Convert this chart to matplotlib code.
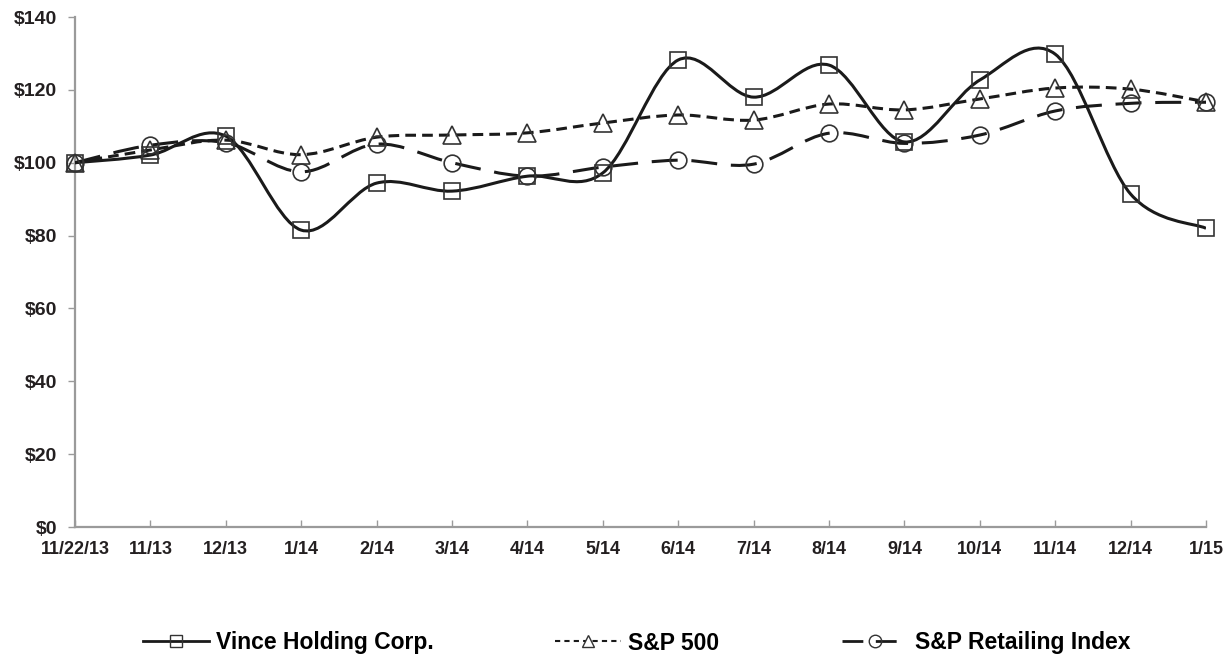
import matplotlib
matplotlib.use("Agg")
import matplotlib.pyplot as plt
from matplotlib.path import Path
from matplotlib.patches import PathPatch
from matplotlib.lines import Line2D
import numpy as np

plt.rcParams['font.family'] = ['Liberation Sans', 'DejaVu Sans']
plt.rcParams['font.weight'] = 'bold'

categories = ["11/22/13", "11/13", "12/13", "1/14", "2/14", "3/14", "4/14", "5/14",
              "6/14", "7/14", "8/14", "9/14", "10/14", "11/14", "12/14", "1/15"]
vince = [100, 102.1, 107.3, 81.5, 94.4, 92.2, 96.3, 97.2,
         128.2, 118.0, 126.8, 105.7, 122.7, 129.8, 91.4, 82.0]
sp500 = [100, 103.5, 106.2, 102.2, 107.0, 107.6, 108.2, 110.9,
         113.1, 111.7, 116.1, 114.5, 117.5, 120.5, 120.2, 116.7]
retail = [100, 104.8, 105.5, 97.5, 105.1, 100.0, 96.3, 98.8,
          100.7, 99.6, 108.1, 105.3, 107.6, 114.2, 116.3, 116.6]
yticks = [0, 20, 40, 60, 80, 100, 120, 140]
series_names = ["Vince Holding Corp.", "S&P 500", "S&P Retailing Index"]

TXT = '#231f20'
AX = '#9a9a9a'
LINE = '#1a1a1a'
MEC = '#333333'


def smooth_path(xs, ys):
    xs = np.asarray(xs, float)
    ys = np.asarray(ys, float)
    n = len(xs)
    verts = [(xs[0], ys[0])]
    codes = [Path.MOVETO]
    for i in range(n - 1):
        p0 = i - 1 if i > 0 else 0
        p3 = i + 2 if i + 2 < n else n - 1
        c1 = (xs[i] + (xs[i + 1] - xs[p0]) / 6, ys[i] + (ys[i + 1] - ys[p0]) / 6)
        c2 = (xs[i + 1] - (xs[p3] - xs[i]) / 6, ys[i + 1] - (ys[p3] - ys[i]) / 6)
        verts += [c1, c2, (xs[i + 1], ys[i + 1])]
        codes += [Path.CURVE4] * 3
    return Path(verts, codes)


fig = plt.figure(figsize=(12.32, 6.56), dpi=100)
ax = fig.add_axes([75 / 1232, 1 - 527 / 656, (1206 - 75) / 1232, (527 - 17) / 656])

x = np.arange(len(categories))
styles = [
    dict(marker='s', dashes=None, ms=11.5),
    dict(marker='^', dashes=(3.5, 2), ms=12.5),
    dict(marker='o', dashes=(8.5, 4.5), ms=12),
]
data = [vince, sp500, retail]
for ys, st in zip(data, styles):
    patch = PathPatch(smooth_path(x, ys), facecolor='none', edgecolor=LINE,
                      lw=2.2, zorder=3, capstyle='butt')
    if st['dashes'] is not None:
        patch.set_linestyle((0, st['dashes']))
    ax.add_patch(patch)
    ax.plot(x, ys, ls='none', marker=st['marker'], ms=st['ms'],
            mfc='none', mec=MEC, mew=1.2, zorder=4, clip_on=False)

ax.set_xlim(0, len(categories) - 1)
ax.set_ylim(0, 140)
ax.set_xticks(x)
ax.set_xticklabels(categories, fontsize=13, fontweight='bold', color=TXT)
ax.set_yticks(yticks)
ax.set_yticklabels([f"${v}" for v in yticks], fontsize=14, fontweight='bold', color=TXT)
for s in ['top', 'right']:
    ax.spines[s].set_visible(False)
for s in ['left', 'bottom']:
    ax.spines[s].set_color(AX)
    ax.spines[s].set_linewidth(1.6)
ax.tick_params(axis='x', direction='in', length=5, color=AX, width=1, pad=10)
ax.tick_params(axis='y', direction='out', length=5, color=AX, width=1, pad=8)

# legend
handles = [
    Line2D([], [], color=LINE, lw=2, ls='-', marker='s', ms=9, mfc='none', mec=MEC, mew=1),
    Line2D([], [], color=LINE, lw=1.5, ls=(0, (2.5, 2)), marker='^', ms=9, mfc='white', mec=MEC, mew=1),
    Line2D([], [], color=LINE, lw=2, ls=(0, (7.5, 4.5)), marker='o', ms=9, mfc='none', mec=MEC, mew=1),
]
anchors = [143, 555, 842]
for h, name, ax0 in zip(handles, series_names, anchors):
    fig.legend([h], [name], loc='center left', bbox_to_anchor=(ax0 / 1232, 1 - 643 / 656),
               frameon=False, handlelength=2.9, handletextpad=0.3,
               borderpad=0, borderaxespad=0, prop={'weight': 'bold', 'size': 16.5})

fig.savefig("out.png", dpi=100, facecolor='white')
